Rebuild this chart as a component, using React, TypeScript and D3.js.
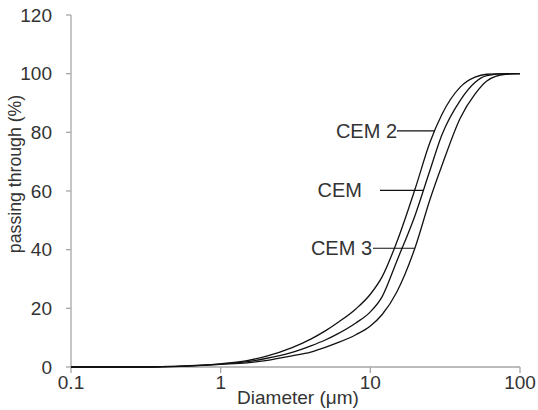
import React, { useEffect, useRef } from 'react';
import * as d3 from 'd3';

// particle diameters (µm), shared by all three series
const diameters = [0.1, 0.2, 0.3, 0.4, 0.6, 1, 1.5, 2, 3, 4, 5, 6, 8, 10, 12, 15, 20, 25, 30, 40, 50, 60, 80, 100];

// cumulative passing (%)
const cem2 = [0, 0, 0, 0.1, 0.4, 1.1, 2.2, 3.6, 6.6, 9.5, 12.3, 15, 19.8, 24.8, 30.8, 42.5, 61, 76.5, 86, 95.5, 98.8, 99.8, 100, 100];
const cem = [0, 0, 0, 0.1, 0.35, 1.0, 1.8, 2.9, 5.0, 7.2, 9.2, 11.2, 15, 18.8, 24, 36, 52, 67, 79, 91, 97, 99.3, 100, 100];
const cem3 = [0, 0, 0, 0.05, 0.3, 0.9, 1.4, 2.2, 3.8, 5.1, 6.7, 8.2, 11, 14, 17.9, 25.5, 41, 57, 68.5, 85, 93, 97.5, 99.8, 100];

const seriesNames = ['CEM 2', 'CEM', 'CEM 3'];
const xTicks = [0.1, 1, 10, 100];
const yTicks = [0, 20, 40, 60, 80, 100, 120];

const W = 538;
const H = 410;

const App: React.FC = () => {
    const svgRef = useRef<SVGSVGElement>(null);

    useEffect(() => {
        const svg = d3.select(svgRef.current);
        svg.selectAll('*').remove();

        const x = d3.scaleLog().domain([0.1, 100]).range([71, 520]);
        const y = d3.scaleLinear().domain([0, 120]).range([367, 15]);

        const axisColor = '#a6a6a6';
        const textColor = '#333';
        const font = 'Liberation Sans, Arial, sans-serif';

        // y axis
        svg.append('line')
            .attr('x1', x(0.1)).attr('x2', x(0.1))
            .attr('y1', y(0)).attr('y2', y(120))
            .attr('stroke', axisColor).attr('stroke-width', 1.3);

        yTicks.forEach(t => {
            svg.append('line')
                .attr('x1', x(0.1) - 5).attr('x2', x(0.1))
                .attr('y1', y(t)).attr('y2', y(t))
                .attr('stroke', axisColor).attr('stroke-width', 1.3);
            svg.append('text')
                .attr('x', 52).attr('y', y(t) + 6.8)
                .attr('text-anchor', 'end')
                .style('font-family', font).style('font-size', '19px')
                .style('fill', textColor)
                .text(t);
        });

        // x axis
        svg.append('line')
            .attr('x1', x(0.1)).attr('x2', x(100))
            .attr('y1', y(0)).attr('y2', y(0))
            .attr('stroke', axisColor).attr('stroke-width', 1.3);

        xTicks.forEach(t => {
            svg.append('line')
                .attr('x1', x(t)).attr('x2', x(t))
                .attr('y1', y(0)).attr('y2', y(0) + 6)
                .attr('stroke', axisColor).attr('stroke-width', 1.3);
            svg.append('text')
                .attr('x', x(t)).attr('y', 389)
                .attr('text-anchor', 'middle')
                .style('font-family', font).style('font-size', '19px')
                .style('fill', textColor)
                .text(String(t));
        });

        // axis titles
        svg.append('text')
            .attr('x', 298).attr('y', 404)
            .attr('text-anchor', 'middle')
            .style('font-family', font).style('font-size', '19px')
            .style('fill', textColor)
            .text('Diameter (\u03bcm)');

        svg.append('text')
            .attr('transform', `translate(21, 174) rotate(-90)`)
            .attr('text-anchor', 'middle')
            .style('font-family', font).style('font-size', '17.7px')
            .style('fill', textColor)
            .text('passing through (%)');

        // curves
        const all = [cem2, cem, cem3];
        const line = d3.line<[number, number]>()
            .x(d => x(d[0]))
            .y(d => y(d[1]))
            .curve(d3.curveMonotoneX);

        all.forEach(vals => {
            const pts = diameters.map((dm, i) => [dm, vals[i]] as [number, number]);
            svg.append('path')
                .attr('d', line(pts) || '')
                .attr('fill', 'none')
                .attr('stroke', '#111')
                .attr('stroke-width', 1.3);
        });

        // diameter where a series reaches a level (log interpolation)
        const reach = (vals: number[], level: number) => {
            for (let i = 1; i < vals.length; i++) {
                if (vals[i] >= level) {
                    const t = (level - vals[i - 1]) / (vals[i] - vals[i - 1]);
                    const l0 = Math.log10(diameters[i - 1]);
                    const l1 = Math.log10(diameters[i]);
                    return Math.pow(10, l0 + t * (l1 - l0));
                }
            }
            return 100;
        };

        // labels with leader lines
        const labelLevel = [80.5, 60.2, 40.5];
        const leaderStart = [397, 380, 373];
        const textEnd = [397, 362, 372];
        seriesNames.forEach((name, i) => {
            const ly = y(labelLevel[i]);
            svg.append('line')
                .attr('x1', leaderStart[i])
                .attr('x2', x(reach(all[i], labelLevel[i])))
                .attr('y1', ly).attr('y2', ly)
                .attr('stroke', '#111').attr('stroke-width', 1.1);
            svg.append('text')
                .attr('x', textEnd[i]).attr('y', ly + 7)
                .attr('text-anchor', 'end')
                .style('font-family', font).style('font-size', '20px')
                .style('fill', textColor)
                .text(name);
        });
    }, []);

    return (
        <svg
            ref={svgRef}
            width={W}
            height={H}
            style={{ position: 'absolute', left: 0, top: 0, background: '#fff' }}
        />
    );
};

export default App;
